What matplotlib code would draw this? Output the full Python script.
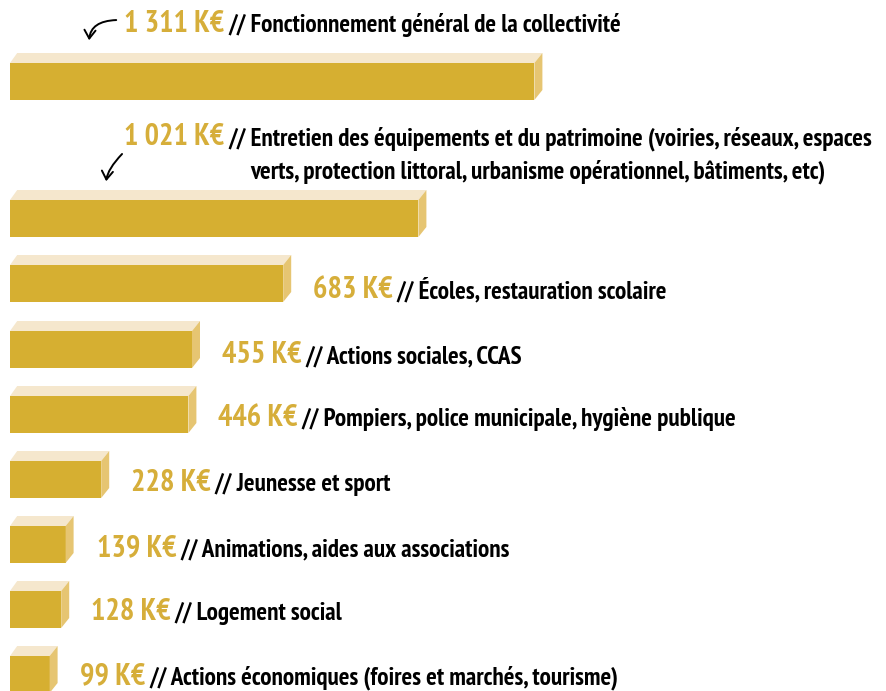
import matplotlib
matplotlib.use("Agg")
import matplotlib.pyplot as plt
from matplotlib.patches import Polygon, FancyArrowPatch

# Data (K€)
values = [1311, 1021, 683, 455, 446, 228, 139, 128, 99]
value_labels = ["1 311 K€", "1 021 K€", "683 K€", "455 K€", "446 K€",
                "228 K€", "139 K€", "128 K€", "99 K€"]
categories = [
    "Fonctionnement général de la collectivité",
    "Entretien des équipements et du patrimoine (voiries, réseaux, espaces\n"
    "verts, protection littoral, urbanisme opérationnel, bâtiments, etc)",
    "Écoles, restauration scolaire",
    "Actions sociales, CCAS",
    "Pompiers, police municipale, hygiène publique",
    "Jeunesse et sport",
    "Animations, aides aux associations",
    "Logement social",
    "Actions économiques (foires et marchés, tourisme)",
]

# Layout (pixels)
W, H = 887, 691
X0 = 10
PX_PER_K = 0.4
bar_tops = [63, 200, 265, 331, 396, 461, 526, 591, 656]
BAR_H = 37
TOP_H = 10
DEPTH = 8 / PX_PER_K  # in K€ units

# label left edge and baseline (pixels)
label_x = [124, 124, 313, 222, 218, 131, 97, 91, 80]
label_base = [32, 145, 298, 363, 426, 491, 556, 620, 684]
LINE_GAP = 33
GAP = 4

FRONT = "#D6AF31"
TOP = "#F5E7CD"
SIDE = "#E6C572"
GOLD = "#D6AE3A"
FONT = ["PT Sans Narrow", "Open Sans Condensed", "DejaVu Sans"]

fig = plt.figure(figsize=(W / 100, H / 100), dpi=100)
ax = fig.add_axes([X0 / W, 0, 1 - X0 / W, 1])
ax.set_xlim(0, (W - X0) / PX_PER_K)
ax.set_ylim(H, 0)
ax.axis("off")

# 3D-looking bars: front face + top face + side face
for v, top in zip(values, bar_tops):
    ax.barh(top + BAR_H / 2, v, height=BAR_H, left=0, color=FRONT, linewidth=0)
    ax.add_patch(Polygon([(0, top), (DEPTH * 0.9, top - TOP_H), (v + DEPTH, top - TOP_H), (v, top)],
                         closed=True, facecolor=TOP, edgecolor="none"))
    ax.add_patch(Polygon([(v, top), (v + DEPTH, top - TOP_H), (v + DEPTH, top + BAR_H - TOP_H),
                          (v, top + BAR_H)], closed=True, facecolor=SIDE, edgecolor="none"))

fig.canvas.draw()
renderer = fig.canvas.get_renderer()


def text_width(s, fs):
    t = fig.text(0, 0, s, fontsize=fs, fontweight="bold", family=FONT)
    w = t.get_window_extent(renderer).width
    t.remove()
    return w


# font sizes fitted to the reference text widths
gold_fs = 20 * 100 / text_width(value_labels[0], 20)
slash_x2 = label_x[1] + text_width(value_labels[1], gold_fs) + GAP
longest = "// " + categories[1].split("\n")[0]
black_fs = 20 * (872 - slash_x2) / text_width(longest, 20)

for vl, cat, lx, base in zip(value_labels, categories, label_x, label_base):
    t = fig.text(lx / W, 1 - base / H, vl, color=GOLD, fontsize=gold_fs, fontweight="bold",
                 family=FONT, ha="left", va="baseline")
    bb = t.get_window_extent(renderer)
    lines = cat.split("\n")
    fig.text((bb.x1 + GAP) / W, 1 - base / H, "// " + lines[0], color="black", fontsize=black_fs,
             fontweight="bold", family=FONT, ha="left", va="baseline")
    if len(lines) > 1:
        sw = text_width("// ", black_fs)
        fig.text((bb.x1 + GAP + sw) / W, 1 - (base + LINE_GAP) / H, lines[1], color="black",
                 fontsize=black_fs, fontweight="bold", family=FONT, ha="left", va="baseline")

# hand-drawn style arrows (pixel coordinates)
fig.patches.append(FancyArrowPatch(
    (119, H - 20), (89, H - 43), transform=None, connectionstyle="angle3,angleA=0,angleB=90",
    arrowstyle="->,head_length=6,head_width=4", color="black", lw=1.4))
fig.patches.append(FancyArrowPatch(
    (124, H - 152), (106, H - 184), transform=None, connectionstyle="angle3,angleA=45,angleB=90",
    arrowstyle="->,head_length=6,head_width=4", color="black", lw=1.4))

fig.savefig("out.png", dpi=100)
